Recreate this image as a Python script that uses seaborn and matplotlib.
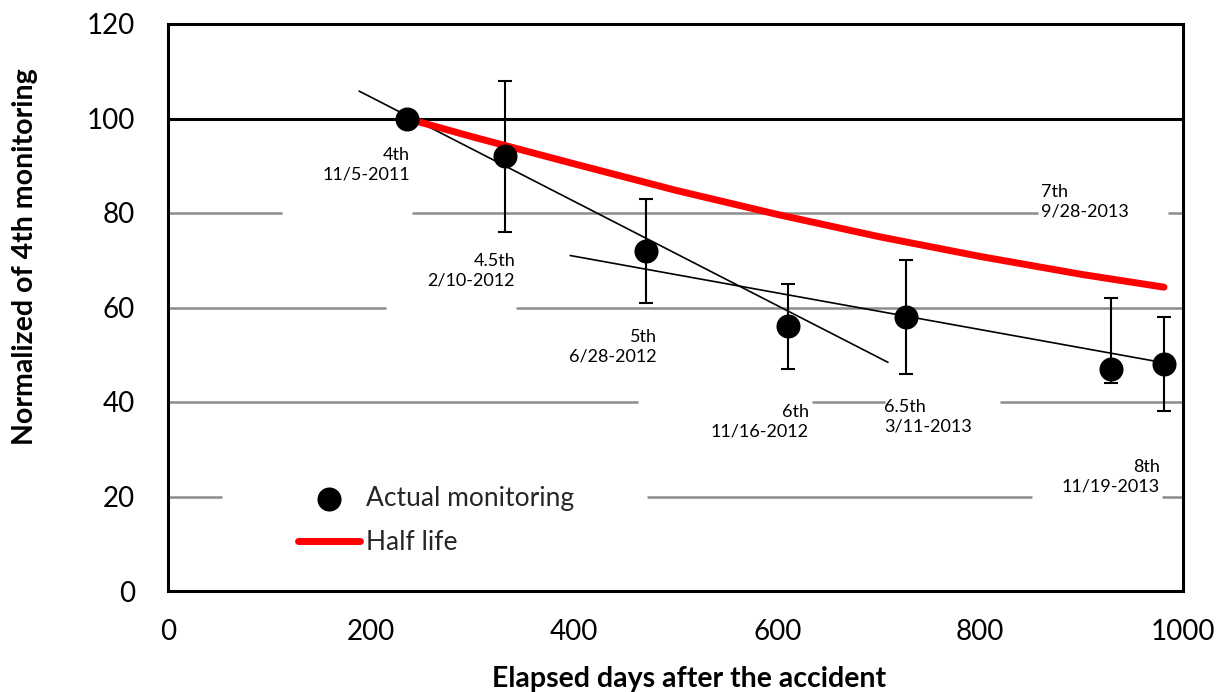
import matplotlib
matplotlib.use("Agg")
import matplotlib.pyplot as plt
import seaborn as sns
import numpy as np
import pandas as pd

# monitoring campaigns (elapsed days, normalized to 4th monitoring)
days = [235, 332, 471, 611, 727, 929, 981]
normalized = [100, 92, 72, 56, 58, 47, 48]
err_low = [np.nan, 76, 61, 47, 46, 44, 38]
err_high = [np.nan, 108, 83, 65, 70, 62, 58]
labels = ["4th\n11/5-2011", "4.5th\n2/10-2012", "5th\n6/28-2012", "6th\n11/16-2012",
          "6.5th\n3/11-2013", "7th\n9/28-2013", "8th\n11/19-2013"]

# half life curve
half_days = [235, 300, 400, 500, 600, 700, 800, 900, 981]
half_vals = [100, 96.1, 90.4, 84.8, 79.7, 75.0, 70.8, 67.0, 64.3]

# the two fitted trend lines
trend1_x = [188, 709]
trend1_y = [105.8, 48.4]
trend2_x = [396, 981]
trend2_y = [71.0, 48.3]

# label placement: (x, y, ha)
label_pos = [(238, 93.9, "right"), (341.6, 71.5, "right"), (481, 55.4, "right"),
             (631, 39.6, "right"), (705, 40.6, "left"), (860, 86.1, "left"),
             (977, 27.9, "right")]

# broken gridlines (segments left uncovered by the text boxes)
grid_segments = {
    80: [(0, 112), (240, 857), (985, 1000)],
    60: [(0, 214.5), (342.6, 1000)],
    40: [(0, 462.8), (634, 706), (819, 1000)],
    20: [(0, 53), (471.6, 851), (979, 1000)],
}

sns.set_theme(style="white")
plt.rcParams["font.family"] = ["Lato", "DejaVu Sans"]

fig = plt.figure(figsize=(12.17, 6.92), dpi=100)
ax = fig.add_axes([168.3 / 1217, 1 - 591 / 692, 1015 / 1217, 567 / 692])

for yv, segs in grid_segments.items():
    for a, b in segs:
        ax.hlines(yv, a, b, color="#8c8c8c", lw=1.8, zorder=1)
ax.axhline(100, color="black", lw=2.2, zorder=2)

df = pd.DataFrame({"days": days, "norm": normalized, "lo": err_low, "hi": err_high})
sub = df.dropna()
ax.errorbar(sub["days"], sub["norm"], yerr=[sub["norm"] - sub["lo"], sub["hi"] - sub["norm"]],
            fmt="none", ecolor="black", elinewidth=1.5, capsize=4.7, capthick=1.5, zorder=3)

sns.lineplot(x=trend1_x, y=trend1_y, ax=ax, color="black", lw=1.2, legend=False, zorder=3)
sns.lineplot(x=trend2_x, y=trend2_y, ax=ax, color="black", lw=1.2, legend=False, zorder=3)
sns.lineplot(x=half_days, y=half_vals, ax=ax, color="#ff0000", lw=5, label="Half life",
             zorder=4, solid_capstyle="round")
sns.scatterplot(data=df, x="days", y="norm", ax=ax, color="black", s=300, edgecolor="black",
                linewidth=0, label="Actual monitoring", zorder=5)

for txt, (lx, ly, ha) in zip(labels, label_pos):
    ax.text(lx, ly, txt, ha=ha, va="top", fontsize=13, color="black", linespacing=1.25, zorder=6)

ax.set_xlim(0, 1000)
ax.set_ylim(0, 120)
ax.set_xticks(range(0, 1001, 200))
ax.set_yticks(range(0, 121, 20))
ax.tick_params(axis="both", direction="out", length=7, width=2.2, color="black",
               labelsize=20, labelcolor="black")
ax.tick_params(axis="y", pad=17)
ax.tick_params(axis="x", pad=13)
for sp in ax.spines.values():
    sp.set_color("black")
    sp.set_linewidth(2.2)

ax.set_xlabel("Elapsed days after the accident", fontsize=20.5, fontweight="bold", color="black")
ax.set_ylabel("Normalized of 4th monitoring", fontsize=20.5, fontweight="bold", color="black")
ax.xaxis.set_label_coords(0.513, -0.132)
ax.yaxis.set_label_coords(-0.128, 0.59)

h, l = ax.get_legend_handles_labels()
order = [l.index("Actual monitoring"), l.index("Half life")]
ax.legend([h[i] for i in order], [l[i] for i in order], loc="upper left",
          bbox_to_anchor=(0.128, 0.185), frameon=False, fontsize=19, borderpad=0,
          borderaxespad=0, handlelength=2.35, handletextpad=0.2, labelspacing=0.72)

fig.savefig("out.png", dpi=100)
